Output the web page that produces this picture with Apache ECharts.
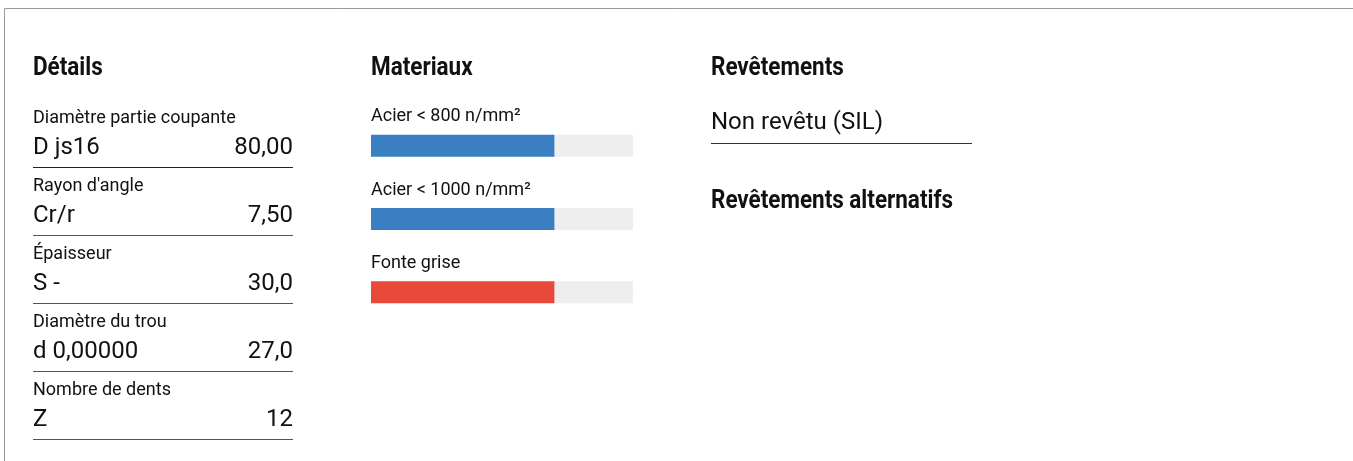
<!DOCTYPE html>
<html>
<head>
<meta charset="utf-8">
<script src="https://cdn.jsdelivr.net/npm/echarts@6/dist/echarts.min.js"></script>
<style>
  html, body { margin: 0; padding: 0; background: #fff; }
  #main { width: 1353px; height: 461px; }
</style>
</head>
<body>
<div id="main"></div>
<script>
// data
const detailLabels = ["Diamètre partie coupante", "Rayon d'angle", "Épaisseur", "Diamètre du trou", "Nombre de dents"];
const detailSymbols = ["D js16", "Cr/r", "S -", "d 0,00000", "Z"];
const detailValues = ["80,00", "7,50", "30,0", "27,0", "12"];

const materials = ["Acier < 800 n/mm²", "Acier < 1000 n/mm²", "Fonte grise"];
const materialScores = [70, 70, 70];
const materialGroups = ["P", "P", "K"];

const coatings = ["Non revêtu (SIL)"];

const groupColors = { P: "#3a7fc1", K: "#e8493b" };
const bodyFont = "Roboto, sans-serif";
const headFont = "bold 26px Roboto, sans-serif";

// no condensed font available: squeeze the heading font horizontally
const ctx = document.createElement("canvas").getContext("2d");
ctx.font = headFont;
const headScale = 242 / ctx.measureText("Revêtements alternatifs").width;

const myChart = echarts.init(document.getElementById("main"));

// graphic elements: card border, headings, details table, coatings
const graphics = [
  { type: "line", shape: { x1: 4.5, y1: 8.5, x2: 1353, y2: 8.5 }, style: { stroke: "#999", lineWidth: 1 } },
  { type: "line", shape: { x1: 4.5, y1: 8.5, x2: 4.5, y2: 461 }, style: { stroke: "#999", lineWidth: 1 } }
];

function heading(text, x, y) {
  graphics.push({
    type: "text", x: x, y: y, scaleX: headScale,
    style: { text: text, font: headFont, fill: "#111", textVerticalAlign: "middle" }
  });
}
heading("Détails", 33, 68);
heading("Materiaux", 371, 68);
heading("Revêtements", 711, 68);
heading("Revêtements alternatifs", 711, 201);

detailLabels.forEach((lab, i) => {
  const y0 = 118 + i * 68;
  graphics.push({
    type: "text", x: 33, y: y0,
    style: { text: lab, font: "18px " + bodyFont, fill: "#111", textVerticalAlign: "middle" }
  });
  graphics.push({
    type: "text", x: 33, y: y0 + 30,
    style: { text: detailSymbols[i], font: "24px " + bodyFont, fill: "#111", textVerticalAlign: "middle" }
  });
  graphics.push({
    type: "text", x: 293, y: y0 + 30,
    style: { text: detailValues[i], font: "24px " + bodyFont, fill: "#111", textAlign: "right", textVerticalAlign: "middle" }
  });
  graphics.push({
    type: "line", shape: { x1: 33, y1: y0 + 49.5, x2: 293, y2: y0 + 49.5 },
    style: { stroke: i === 0 ? "#222" : "#555", lineWidth: 1 }
  });
});

coatings.forEach((c, i) => {
  graphics.push({
    type: "text", x: 711, y: 123 + i * 50,
    style: { text: c, font: "24px " + bodyFont, fill: "#111", textVerticalAlign: "middle" }
  });
  graphics.push({
    type: "line", shape: { x1: 711, y1: 143.5 + i * 50, x2: 972, y2: 143.5 + i * 50 },
    style: { stroke: "#333", lineWidth: 1 }
  });
});

const option = {
  animation: false,
  graphic: graphics,
  grid: { left: 371, width: 262, top: 109, height: 220 },
  xAxis: { type: "value", min: 0, max: 100, show: false },
  yAxis: {
    type: "category", data: materials, inverse: true, show: false
  },
  series: [
    {
      type: "bar",
      barWidth: 22,
      showBackground: true,
      backgroundStyle: { color: "#eeeeee" },
      data: materialScores.map((v, i) => ({
        value: v,
        itemStyle: { color: groupColors[materialGroups[i]] }
      })),
      label: {
        show: true,
        position: [0, -27],
        formatter: "{b}",
        color: "#111",
        fontFamily: bodyFont,
        fontSize: 18
      }
    }
  ]
};

myChart.setOption(option);
</script>
</body>
</html>
